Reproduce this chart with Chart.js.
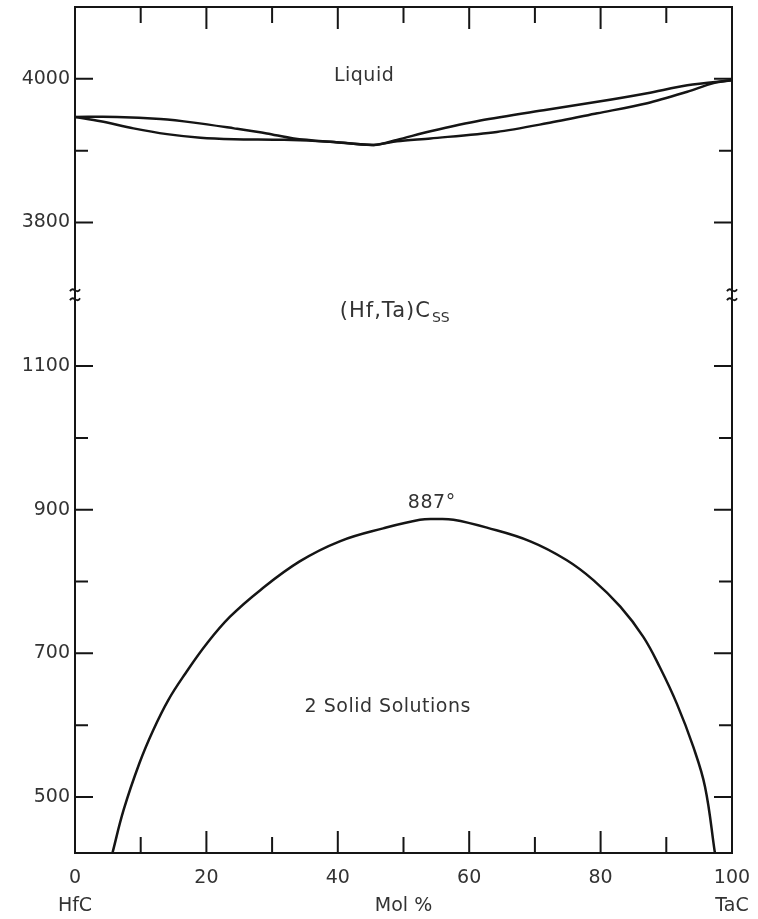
<!DOCTYPE html>
<html>
<head>
<meta charset="utf-8">
<title>HfC - TaC</title>
<script src="https://cdn.jsdelivr.net/npm/chart.js@4.4.1/dist/chart.umd.min.js"></script>
<style>
  html, body { margin: 0; padding: 0; background: #fff; }
  #wrap { width: 758px; height: 919px; }
</style>
</head>
<body>
<div id="wrap"><canvas id="phaseChart"></canvas></div>
<script>
// liquidus (upper line of the lens), mol % TaC / °C
const liquidusMol = [0, 6.4, 13.0, 18.1, 24.2, 29.2, 33.3, 39.4, 45.5, 49.0, 54.1, 61.7, 71.8, 79.5, 87.1, 93.2, 100];
const liquidusT   = [3947, 3947, 3944, 3939, 3931, 3924, 3917, 3912, 3908, 3915, 3927, 3942, 3957, 3968, 3980, 3991, 3998];

// solidus (lower line of the lens)
const solidusMol = [0, 3.9, 8.9, 14.0, 19.1, 24.2, 31.8, 39.4, 45.5, 49.0, 54.1, 64.2, 71.8, 79.5, 87.1, 93.2, 97.2, 100];
const solidusT   = [3947, 3941, 3931, 3923, 3918, 3916, 3915, 3912, 3908, 3913, 3917, 3926, 3938, 3952, 3966, 3982, 3994, 3998];

// miscibility gap, top at 887°
const gapMol = [5.7, 7.4, 9.8, 11.9, 14.2, 16.8, 20.1, 23.6, 28.2, 34.2, 40.3, 46.9, 52.5, 55, 57.6, 62.7, 69.3, 74.8, 78.9, 83.0, 86.5, 89.0, 91.6, 94.1, 95.9, 97.4];
const gapT   = [422, 482, 547, 593, 635, 672, 714, 751, 788, 828, 856, 874, 886, 887, 886, 875, 856, 830, 802, 765, 723, 681, 630, 570, 514, 422];

// axes
const xTickLabels = [0, 20, 40, 60, 80, 100];
const xTickMarks = [10, 20, 30, 40, 50, 60, 70, 80, 90];
const highLabels = [3800, 4000];
const highTickMarks = [3800, 3900, 4000];
const lowLabels = [500, 700, 900, 1100];
const lowTickMarks = [500, 600, 700, 800, 900, 1000, 1100];

const INK = "#151515";
const TEXT = "#333333";
const FONT = '"DejaVu Sans", sans-serif';

function pairs(xs, ys) {
  return xs.map((x, i) => ({ x: x, y: ys[i] }));
}

// keep the plot area where the original frame is
function noOverflow(s) {
  s.paddingLeft = 0;
  s.paddingRight = 0;
  s.paddingTop = 0;
  s.paddingBottom = 0;
}

const frameAndText = {
  id: "frameAndText",
  afterDatasetsDraw(chart) {
    const ctx = chart.ctx;
    const a = chart.chartArea;
    const x = chart.scales.x;
    const yHigh = chart.scales.yHigh;
    const yLow = chart.scales.yLow;
    ctx.save();

    // frame
    ctx.strokeStyle = INK;
    ctx.lineWidth = 2;
    ctx.strokeRect(a.left, a.top, a.right - a.left, a.bottom - a.top);

    // inward ticks, bottom and top
    xTickMarks.forEach((v) => {
      const px = x.getPixelForValue(v);
      const len = v % 20 === 0 ? 22 : 16;
      ctx.beginPath();
      ctx.moveTo(px, a.bottom);
      ctx.lineTo(px, a.bottom - len);
      ctx.moveTo(px, a.top);
      ctx.lineTo(px, a.top + len);
      ctx.stroke();
    });

    // inward ticks, left and right
    function yTicks(scale, marks, labels) {
      marks.forEach((v) => {
        const py = scale.getPixelForValue(v);
        const len = labels.includes(v) ? 18 : 13;
        ctx.beginPath();
        ctx.moveTo(a.left, py);
        ctx.lineTo(a.left + len, py);
        ctx.moveTo(a.right, py);
        ctx.lineTo(a.right - len, py);
        ctx.stroke();
      });
    }
    yTicks(yHigh, highTickMarks, highLabels);
    yTicks(yLow, lowTickMarks, lowLabels);

    // break marks where the two temperature ranges meet
    const by = yLow.top;
    ctx.lineWidth = 1.8;
    [a.left, a.right].forEach((bx) => {
      [-4, 5].forEach((off) => {
        ctx.beginPath();
        ctx.moveTo(bx - 5, by + off + 1);
        ctx.bezierCurveTo(bx - 2, by + off - 5, bx + 2, by + off + 5, bx + 5, by + off - 1);
        ctx.stroke();
      });
    });

    // labels
    ctx.fillStyle = TEXT;
    ctx.font = "19px " + FONT;
    ctx.textBaseline = "middle";
    ctx.textAlign = "center";
    ctx.fillText("HfC", x.getPixelForValue(0), 906);
    ctx.fillText("TaC", x.getPixelForValue(100), 906);
    ctx.letterSpacing = "0.5px";
    ctx.fillText("Liquid", x.getPixelForValue(44), yHigh.getPixelForValue(4004));
    ctx.fillText("887°", x.getPixelForValue(54.3), yLow.getPixelForValue(909));
    ctx.fillText("2 Solid Solutions", x.getPixelForValue(47.6), yLow.getPixelForValue(625));

    ctx.textAlign = "left";
    ctx.font = "21px " + FONT;
    ctx.letterSpacing = "1px";
    const sx = x.getPixelForValue(40.3);
    const sy = yLow.getPixelForValue(1176);
    ctx.fillText("(Hf,Ta)C", sx, sy);
    const w = ctx.measureText("(Hf,Ta)C").width;
    ctx.font = "14px " + FONT;
    ctx.letterSpacing = "0px";
    ctx.fillText("SS", sx + w + 1, sy + 7);

    ctx.restore();
  }
};

const lineStyle = {
  borderColor: INK,
  borderWidth: 2.5,
  pointRadius: 0,
  fill: false
};

new Chart(document.getElementById("phaseChart"), {
  type: "line",
  data: {
    datasets: [
      Object.assign({ label: "Liquidus", data: pairs(liquidusMol, liquidusT), yAxisID: "yHigh", tension: 0.3 }, lineStyle),
      Object.assign({ label: "Solidus", data: pairs(solidusMol, solidusT), yAxisID: "yHigh", tension: 0.3 }, lineStyle),
      Object.assign({ label: "Miscibility gap", data: pairs(gapMol, gapT), yAxisID: "yLow", tension: 0.4 }, lineStyle)
    ]
  },
  options: {
    responsive: true,
    maintainAspectRatio: false,
    animation: false,
    layout: { padding: { top: 7, right: 26, left: 0, bottom: 0 } },
    plugins: {
      legend: { display: false },
      tooltip: { enabled: false }
    },
    scales: {
      x: {
        type: "linear",
        min: 0,
        max: 100,
        afterFit: (s) => { s.height = 66; noOverflow(s); },
        grid: { display: false, drawTicks: false },
        border: { display: false },
        ticks: {
          stepSize: 20,
          padding: 14,
          color: TEXT,
          font: { family: FONT, size: 19 },
          callback: (v) => (xTickLabels.includes(v) ? v : "")
        },
        title: {
          display: true,
          text: "Mol %",
          color: TEXT,
          font: { family: FONT, size: 19 },
          padding: { top: 0, bottom: 2 }
        }
      },
      // stacked boxes on the left are laid out in reverse, so the lower range comes first
      yLow: {
        type: "linear",
        position: "left",
        stack: "temperature",
        stackWeight: 778,
        min: 422,
        max: 1200,
        afterFit: (s) => { s.width = 75; noOverflow(s); },
        grid: { display: false, drawTicks: false },
        border: { display: false },
        ticks: {
          stepSize: 100,
          padding: 5,
          color: TEXT,
          font: { family: FONT, size: 19 },
          callback: (v) => (lowLabels.includes(v) ? v : "")
        }
      },
      yHigh: {
        type: "linear",
        position: "left",
        stack: "temperature",
        stackWeight: 400,
        min: 3700,
        max: 4100,
        afterFit: (s) => { s.width = 75; noOverflow(s); },
        grid: { display: false, drawTicks: false },
        border: { display: false },
        ticks: {
          stepSize: 100,
          padding: 5,
          color: TEXT,
          font: { family: FONT, size: 19 },
          callback: (v) => (highLabels.includes(v) ? v : "")
        }
      }
    }
  },
  plugins: [frameAndText]
});
</script>
</body>
</html>
